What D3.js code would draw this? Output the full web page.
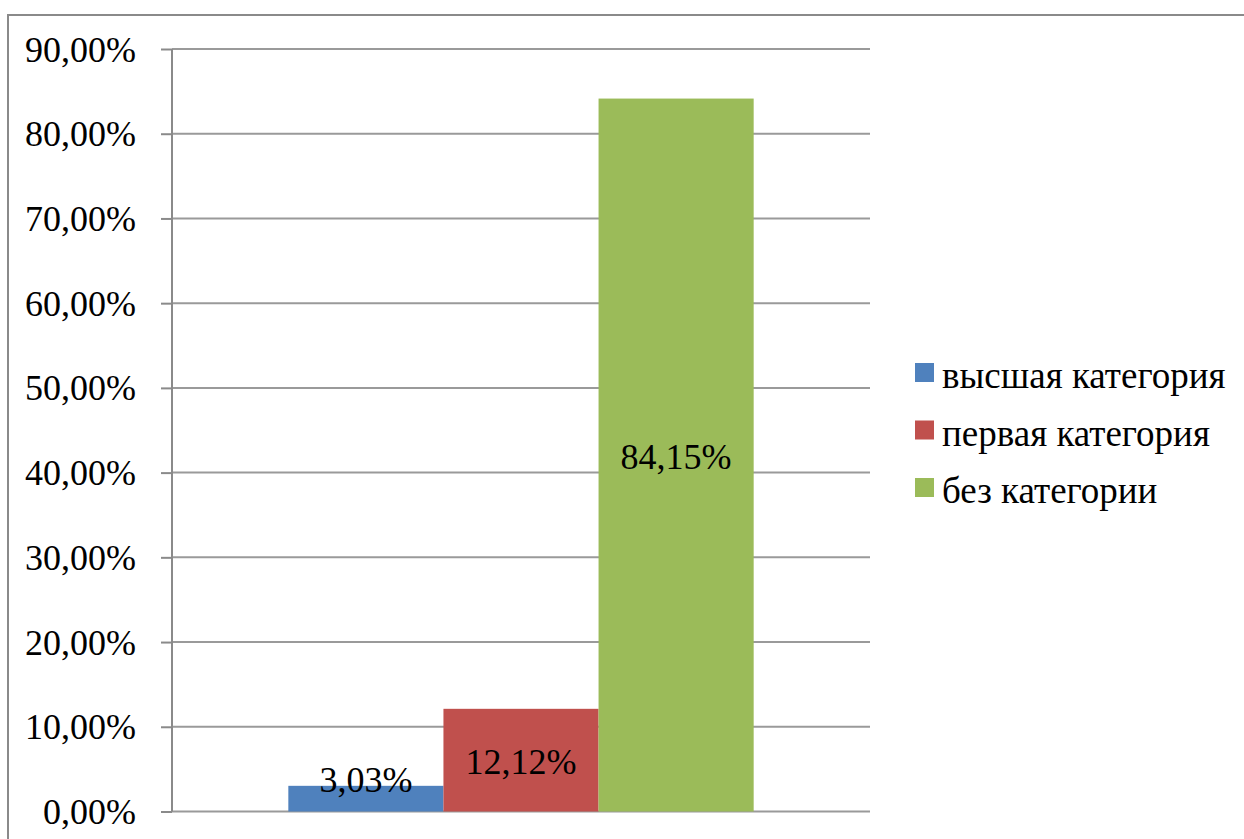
<!DOCTYPE html>
<html>
<head>
<meta charset="utf-8">
<script src="https://cdn.jsdelivr.net/npm/d3@7"></script>
<style>
  html, body { margin: 0; padding: 0; background: #ffffff; }
  svg { display: block; }
</style>
</head>
<body>
<svg id="chart" width="1244" height="839"></svg>
<script>
// Share of staff by qualification category
const categories = [""];
const seriesNames = ["высшая категория", "первая категория", "без категории"];
const seriesValues = [0.0303, 0.1212, 0.8415];
const seriesColors = ["#4F81BD", "#C0504D", "#9BBB59"];
const yTicks = [0, 0.1, 0.2, 0.3, 0.4, 0.5, 0.6, 0.7, 0.8, 0.9];

const FONT = "'Times New Roman', Tinos, 'Liberation Serif', 'DejaVu Serif', serif";
const W = 1244, H = 839;
const plot = { left: 172, right: 870, top: 49, bottom: 811.5 };

const svg = d3.select("#chart");

// outer chart frame (continues past the right and bottom edges)
svg.append("rect")
  .attr("x", 8).attr("y", 15)
  .attr("width", W + 20).attr("height", H + 20)
  .attr("fill", "#fff")
  .attr("stroke", "#8a8a8a").attr("stroke-width", 2);

const y = d3.scaleLinear().domain([0, 0.9]).range([plot.bottom, plot.top]);

const x0 = d3.scaleBand().domain(categories)
  .range([plot.left, plot.right])
  .paddingInner(0).paddingOuter(0.25);
const x1 = d3.scaleBand().domain(seriesNames)
  .range([0, x0.bandwidth()]).padding(0);

const fmt = v => d3.format(".2f")(v * 100).replace(".", ",") + "%";

// gridlines
svg.append("g").selectAll("line").data(yTicks).join("line")
  .attr("x1", plot.left).attr("x2", plot.right)
  .attr("y1", d => y(d)).attr("y2", d => y(d))
  .attr("stroke", "#9a9a9a").attr("stroke-width", 2);

// y axis
const yAxis = d3.axisLeft(y).tickValues(yTicks).tickFormat(fmt).tickSize(11).tickPadding(25);
const gy = svg.append("g").attr("transform", `translate(${plot.left},0)`).call(yAxis)
  .attr("font-family", FONT).attr("font-size", 36);
gy.select(".domain").attr("stroke", "#8a8a8a").attr("stroke-width", 2)
  .attr("d", `M0,${plot.top}V${plot.bottom}`);
gy.selectAll(".tick line").attr("stroke", "#8a8a8a").attr("stroke-width", 2);
gy.selectAll(".tick text").attr("fill", "#000").attr("dy", 12);

// bars
const data = seriesNames.map((s, i) => ({ series: s, value: seriesValues[i], color: seriesColors[i] }));
const g = svg.append("g").attr("transform", `translate(${x0(categories[0])},0)`)
  .attr("font-family", FONT);
g.selectAll("rect").data(data).join("rect")
  .attr("x", d => x1(d.series))
  .attr("width", x1.bandwidth())
  .attr("y", d => y(d.value))
  .attr("height", d => y(0) - y(d.value))
  .attr("fill", d => d.color);

// value labels, centred in the bar and kept inside the plot area
g.selectAll("text.val").data(data).join("text")
  .attr("class", "val")
  .attr("x", d => x1(d.series) + x1.bandwidth() / 2)
  .attr("y", d => Math.min(y(d.value / 2) + 14, y(0) - 19.5))
  .attr("text-anchor", "middle")
  .attr("font-size", 36)
  .text(d => fmt(d.value));

// legend
const legend = svg.append("g").attr("transform", "translate(915,363)")
  .attr("font-family", FONT);
const li = legend.selectAll("g").data(data).join("g")
  .attr("transform", (d, i) => `translate(0,${i * 57.5})`);
li.append("rect").attr("width", 19).attr("height", 19).attr("fill", d => d.color);
li.append("text").attr("x", 27).attr("y", 25)
  .attr("font-size", 37)
  .text(d => d.series);
</script>
</body>
</html>
